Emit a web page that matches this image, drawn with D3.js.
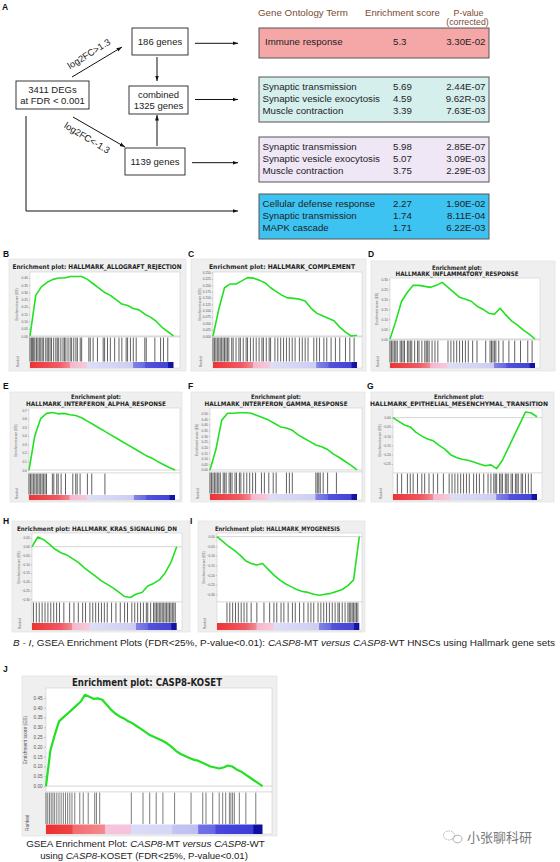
<!DOCTYPE html>
<html><head><meta charset="utf-8">
<script src="https://cdn.jsdelivr.net/npm/d3@7"></script>
<style>body{margin:0;background:#fff}svg{display:block}</style>
</head><body>
<svg id="c" width="560" height="862"></svg>
<script>
// ---------------- DATA ----------------
const flowNodes = [["3411 DEGs","at FDR < 0.001"],["186 genes"],["combined","1325 genes"],["1139 genes"]];
const flowEdgeLabels = ["log2FC>1.3","log2FC<-1.3"];
const goHeader = ["Gene Ontology Term","Enrichment score","P-value","(corrected)"];
const goTerms = [["Immune response"],
  ["Synaptic transmission","Synaptic vesicle exocytosis","Muscle contraction"],
  ["Synaptic transmission","Synaptic vesicle exocytosis","Muscle contraction"],
  ["Cellular defense response","Synaptic transmission","MAPK cascade"]];
const goScores = [["5.3"],["5.69","4.59","3.39"],["5.98","5.07","3.75"],["2.27","1.74","1.71"]];
const goPvals = [["3.30E-02"],["2.44E-07","9.62R-03","7.63E-03"],["2.85E-07","3.09E-03","2.29E-03"],["1.90E-02","8.11E-04","6.22E-03"]];

// running enrichment scores, read at evenly spaced rank positions
const esB = [0,.28,.34,.37,.39,.40,.40,.41,.41,.41,.39,.36,.33,.30,.28,.25,.22,.21,.19,.18,.15,.13,.10,.06,.03,0];
const esC = [0,.105,.19,.205,.205,.217,.23,.228,.22,.21,.19,.175,.16,.15,.148,.145,.138,.11,.09,.08,.07,.06,.035,.015,0,.003];
const esD = [0,.09,.19,.235,.27,.27,.265,.26,.27,.285,.26,.235,.21,.20,.19,.165,.15,.13,.125,.155,.12,.09,.07,.045,.025,0];
const esE = [0,.40,.60,.66,.67,.655,.66,.645,.635,.61,.57,.53,.49,.45,.41,.37,.33,.29,.25,.21,.17,.14,.10,.065,.03,0];
const esF = [0,.18,.44,.50,.50,.505,.505,.50,.48,.46,.44,.41,.38,.37,.35,.31,.28,.25,.22,.205,.18,.14,.11,.075,.04,0];
const esG = [0,-.02,-.04,-.05,-.08,-.10,-.115,-.125,-.15,-.17,-.20,-.215,-.225,-.23,-.24,-.25,-.26,-.255,-.275,-.23,-.165,-.10,-.035,.03,.025,.005];
const esH = [0,.055,.04,.015,-.015,-.035,-.047,-.068,-.09,-.12,-.145,-.17,-.195,-.215,-.235,-.26,-.285,-.29,-.27,-.262,-.225,-.21,-.19,-.15,-.09,0];
const esI = [0,-.025,-.05,-.07,-.095,-.125,-.14,-.148,-.14,-.17,-.20,-.225,-.245,-.26,-.275,-.285,-.29,-.30,-.305,-.30,-.295,-.285,-.275,-.255,-.225,0];
const esJ = [0,.18,.26,.33,.35,.37,.39,.41,.43,.465,.455,.445,.447,.44,.415,.39,.37,.355,.345,.33,.32,.305,.29,.275,.26,.25,.24,.23,.217,.20,.18,.165,.155,.145,.135,.13,.12,.11,.10,.095,.09,.095,.105,.10,.085,.075,.06,.045,.03,.015,0];

// gene-set hit positions (percent of ranked list)
const hitsB = [0,1,1.8,2.6,3.4,4.5,5.5,6.5,7.5,8.5,9.5,11,12,13,14,15,16.5,18,19,20,21.5,23,24,25,26.5,28,29,30.5,32,33,35,36,41,42,44,47,51,52,54,56,59,62,64,67,68,70,72,74,80,81,87,91,93,96];
const hitsC = [0,1,2,3,4,5,6,7,8,9,10,11,13,14,16,18,19,21,23,24,26,28,30,32,34,35,37,39,40,43,45,47,49,51,53,55,57,60,62,64,66,70,72,74,77,79,82,85,88,92,95,98];
const hitsD = [0,1,2,3,4,5,7,8,9,10,12,13,14,15,17,19,20,22,24,25,26,27,29,31,33,40,42,44,46,48,50,52,54,57,60,66,69,70,71,72,73,75,78,82,86,90,95,98];
const hitsE = [0,1,2,3,4,5,6,7,8,9,10,11,12,16,17,19,20,22,25,30,32,33,35,40,43,52];
const hitsF = [0,1,2,3,4,5,6,7,9,10,11,13,14,15,17,18,20,21,23,25,27,29,31,35,37,40,43,45,52,54,56,72,73,74,75,77,80,86];
const hitsG = [3,6,10,12,14,17,20,22,25,28,31,35,39,41,43,45,47,49,51,53,56,58,60,63,66,68,70,71,72,74,75,76,78,79,80,82,83,85,86,87,89,90,92,94,96];
const hitsH = [1,3,5,7,9,11,13,15,17,19,22,26,29,32,35,37,40,42,44,46,48,50,52,55,58,61,64,66,69,71,73,75,77,79,80,82,84,85,86,87,88,89,90,91,92,93,94,95,96,97,98,99];
const hitsI = [7,9,11,13,15,17,19,21,24,28,33,37,40,42,45,47,50,53,55,58,61,64,66,68,71,73,75,77,79,81,83,85,86,88,90,92,93,94,95,96,97,98,99];
const hitsJ = [0,0.8,1.6,2.4,3.2,4,5,6,7,8,9,10,11,12,13.3,15.6,17.2,19.5,22.5,23.3,24.8,39.4,44.8,47.9,50.9,54,59.4,67,72.4,73.9,77,80,81.6,83,84.7,85.4,86.2,87,89.3,92.3,96.9];

// y tick labels
const ticksB = [0,.05,.1,.15,.2,.25,.3,.35,.4];
const ticksC = [0,.025,.05,.075,.1,.125,.15,.175,.2,.225,.25];
const ticksD = [0,.05,.1,.15,.2,.25,.3];
const ticksE = [0,.1,.2,.3,.4,.5,.6,.7];
const ticksF = [0,.05,.1,.15,.2,.25,.3,.35,.4,.45,.5];
const ticksG = [-.25,-.2,-.15,-.1,-.05,0];
const ticksH = [-.3,-.25,-.2,-.15,-.1,-.05,0,.05];
const ticksI = [-.3,-.25,-.2,-.15,-.1,-.05,0];
const ticksJ = [0,.05,.1,.15,.2,.25,.3,.35,.4,.45];

// ---------------- DRAW ----------------
const svg = d3.select('#c');
const defs = svg.append('defs');
const SANS = 'Liberation Sans, Arial, Helvetica, sans-serif';
defs.append('marker').attr('id','ah').attr('viewBox','0 0 10 10').attr('refX',10).attr('refY',5)
  .attr('markerWidth',5.5).attr('markerHeight',5.5).attr('orient','auto')
  .append('path').attr('d','M0,1.5L10,5L0,8.5Z').attr('fill','#111');
function grad(id, stops){
  const lg = defs.append('linearGradient').attr('id',id);
  stops.forEach(s=>lg.append('stop').attr('offset',s[0]).attr('stop-color',s[1]));
}
grad('cb',[[0,'#ec3434'],[0.2,'#f05a64'],[0.275,'#f38890'],[0.28,'#f5b6ce'],[0.395,'#f6cadc'],[0.40,'#dedef7'],[0.715,'#cdcdf3'],[0.72,'#8282e6'],[0.80,'#6a6ae2'],[0.805,'#5252dc'],[0.96,'#4444d6'],[0.965,'#1818a6'],[1,'#10109c']]);
grad('cbJ',[[0,'#ec3030'],[0.12,'#ef4444'],[0.125,'#f26c70'],[0.27,'#f48a8e'],[0.275,'#f6c2dc'],[0.39,'#f6c2dc'],[0.395,'#dcdcf8'],[0.58,'#d6d6f6'],[0.585,'#c4c4f3'],[0.70,'#bebef2'],[0.705,'#7070e8'],[0.78,'#6a6ae6'],[0.785,'#4848de'],[0.955,'#3c3cd8'],[0.96,'#10109e'],[1,'#10109e']]);

function fit(sel, w){
  const l = sel.node().getComputedTextLength();
  if (l > 0) sel.attr('font-size', parseFloat(sel.attr('font-size')) * w / l);
}
function letter(t,x,y){
  svg.append('text').attr('x',x).attr('y',y).attr('font-family',SANS).attr('font-weight','bold')
    .attr('font-size',8.5).attr('fill','#111').text(t);
}

// ----- Panel A: flowchart -----
letter('A',2,9.5);
const nodeBox = [[16,81,73,28],[132,28,56,27],[129,86,59,28],[125,148,60,27]];
flowNodes.forEach((lines,i)=>{
  const b = nodeBox[i];
  svg.append('rect').attr('x',b[0]).attr('y',b[1]).attr('width',b[2]).attr('height',b[3])
    .attr('fill','#fff').attr('stroke','#222').attr('stroke-width',0.9);
  const cx = b[0]+b[2]/2, cy = b[1]+b[3]/2;
  lines.forEach((t,j)=>{
    const yy = cy + 3.3 + (j - (lines.length-1)/2)*11;
    svg.append('text').attr('x',cx).attr('y',yy).attr('text-anchor','middle')
      .attr('font-family',SANS).attr('font-size',9.5).attr('fill','#222').text(t);
  });
});
const arrows = [[72,77,122,47],[73,117,125,147],[157,57,157,81],[157,146,157,115],[195,43.3,238,43.3],[195,99.5,238,99.5],[192,162.7,238,162.7]];
arrows.forEach(a=>svg.append('line').attr('x1',a[0]).attr('y1',a[1]).attr('x2',a[2]).attr('y2',a[3])
  .attr('stroke','#111').attr('stroke-width',1).attr('marker-end','url(#ah)'));
svg.append('path').attr('d','M26,116V211H238').attr('fill','none').attr('stroke','#111').attr('stroke-width',1).attr('marker-end','url(#ah)');
[[89,54,-32],[87,138,31]].forEach((p,i)=>{
  svg.append('text').attr('transform',`translate(${p[0]},${p[1]}) rotate(${p[2]})`)
    .attr('text-anchor','middle').attr('dominant-baseline','central')
    .attr('font-family',SANS).attr('font-size',9.3).attr('fill','#222').text(flowEdgeLabels[i]);
});

// ----- Panel A: GO table -----
const HC = '#7b4a33';
fit(svg.append('text').attr('x',258).attr('y',16).attr('font-family',SANS).attr('font-size',9.6).attr('fill',HC).text(goHeader[0]), 90);
fit(svg.append('text').attr('x',365).attr('y',16).attr('font-family',SANS).attr('font-size',9.6).attr('fill',HC).text(goHeader[1]), 75);
svg.append('text').attr('x',468.5).attr('y',15.5).attr('text-anchor','middle').attr('font-family',SANS).attr('font-size',8.8).attr('fill',HC).text(goHeader[2]);
svg.append('text').attr('x',467.5).attr('y',24.5).attr('text-anchor','middle').attr('font-family',SANS).attr('font-size',8.8).attr('fill',HC).text(goHeader[3]);
const goBox = [[259,28,230,30,'#f5a7a7'],[259,77,230,45,'#d5efed'],[259,137,230,45,'#efe6f6'],[259,194,230,45,'#3dc3f1']];
goTerms.forEach((terms,bi)=>{
  const b = goBox[bi];
  svg.append('rect').attr('x',b[0]).attr('y',b[1]).attr('width',b[2]).attr('height',b[3])
    .attr('fill',b[4]).attr('stroke','#555').attr('stroke-width',1);
  const base = terms.length===1 ? b[1]+17 : b[1]+12.8;
  terms.forEach((t,ri)=>{
    const yy = base + ri*12.1;
    svg.append('text').attr('x', bi===0?265:262.5).attr('y',yy).attr('font-family',SANS).attr('font-size',9.7).attr('fill','#1e1e1e').text(t);
    svg.append('text').attr('x',393).attr('y',yy).attr('font-family',SANS).attr('font-size',9.7).attr('fill','#1e1e1e').text(goScores[bi][ri]);
    svg.append('text').attr('x',485.5).attr('y',yy).attr('text-anchor','end').attr('font-family',SANS).attr('font-size',9.7).attr('fill','#1e1e1e').text(goPvals[bi][ri]);
  });
});

// ----- GSEA panels -----
function gsea(p){
  const g = svg.append('g');
  letter(p.L, p.lx, p.ly);
  g.append('rect').attr('x',p.fr[0]).attr('y',p.fr[1]).attr('width',p.fr[2]).attr('height',p.fr[3])
    .attr('fill','#efefef').attr('stroke','#dcdcdc').attr('stroke-width',0.6);
  p.title.forEach((t,i)=>{
    g.append('text').attr('x',p.cx).attr('y',p.ty+i*p.tdy).attr('text-anchor','middle')
      .attr('font-family','DejaVu Sans, Verdana, sans-serif').attr('font-weight','bold')
      .attr('font-size',p.tfs).attr('fill','#1f1f1f')
      .attr('textLength',p.tw[i]).attr('lengthAdjust','spacingAndGlyphs').text(t);
  });
  const x = d3.scaleLinear().domain([0,1]).range([p.x0,p.xd]);
  const y = d3.scaleLinear().domain(p.dom).range([p.y1,p.y0]);
  g.append('rect').attr('x',p.x0).attr('y',p.y0).attr('width',p.x1-p.x0).attr('height',p.y1-p.y0)
    .attr('fill','#fff').attr('stroke','#c8c8c8').attr('stroke-width',0.5);
  g.append('line').attr('x1',p.x0).attr('x2',p.x1).attr('y1',y(0)).attr('y2',y(0))
    .attr('stroke','#bbb').attr('stroke-width',0.6);
  const ax = g.append('g').attr('transform',`translate(${p.x0},0)`)
    .call(d3.axisLeft(y).tickValues(p.ticks).tickFormat(d3.format(p.fmt)).tickSize(p.big?2:1.2).tickPadding(p.big?1.5:1));
  ax.select('.domain').remove();
  ax.selectAll('line').attr('stroke','#888').attr('stroke-width',0.4);
  ax.selectAll('text').attr('font-size',p.big?4.6:3.2).attr('fill','#555').attr('font-family',SANS);
  g.append('text').attr('transform',`translate(${p.x0-(p.big?19:12)},${(p.y0+p.y1)/2}) rotate(-90)`)
    .attr('text-anchor','middle').attr('font-family',SANS).attr('font-size',p.big?4.8:3.2).attr('fill','#555')
    .text('Enrichment score (ES)');
  g.append('rect').attr('x',p.x0).attr('y',p.y1).attr('width',p.x1-p.x0).attr('height',p.cb-p.y1)
    .attr('fill','#fff').attr('stroke','#c8c8c8').attr('stroke-width',0.5);
  g.selectAll(null).data(p.hits).join('line')
    .attr('x1',d=>x(d/100)).attr('x2',d=>x(d/100)).attr('y1',p.y1+0.6).attr('y2',p.hb-0.4)
    .attr('stroke','#000').attr('stroke-opacity',p.big?0.55:0.78).attr('stroke-width',p.big?0.95:0.8);
  g.append('rect').attr('x',p.x0).attr('y',p.hb).attr('width',p.xd-p.x0).attr('height',p.cb-p.hb)
    .attr('fill',`url(#${p.big?'cbJ':'cb'})`);
  g.append('text').attr('transform',`translate(${p.x0-(p.big?17:11)},${p.cb-(p.big?3:1)}) rotate(-90)`)
    .attr('font-family',SANS).attr('font-size',p.big?4.8:3.2).attr('fill','#555').text('Ranked');
  const pts = p.es.map((v,i)=>[i/(p.es.length-1), v]);
  g.append('path').datum(pts).attr('d',d3.line().x(d=>x(d[0])).y(d=>y(d[1])))
    .attr('fill','none').attr('stroke','#22e022').attr('stroke-width',p.big?2.2:1.6).attr('stroke-linejoin','round');
}

const panels = [
 {L:'B',lx:3,ly:257,fr:[9,259,177,112],title:['Enrichment plot: HALLMARK_ALLOGRAFT_REJECTION'],tw:[169],cx:97,ty:268.5,tdy:6.8,tfs:6.4,
  x0:30,y0:272,x1:180,y1:337,xd:173.5,hb:362,cb:368,es:esB,hits:hitsB,dom:[-0.007,0.441],ticks:ticksB,fmt:'.2f'},
 {L:'C',lx:188,ly:257,fr:[191,259,175,112],title:['Enrichment plot: HALLMARK_COMPLEMENT'],tw:[146],cx:282,ty:268.5,tdy:6.8,tfs:6.4,
  x0:213,y0:272,x1:362,y1:337,xd:357,hb:362,cb:368,es:esC,hits:hitsC,dom:[-0.004,0.252],ticks:ticksC,fmt:'.3f'},
 {L:'D',lx:368,ly:257,fr:[371,261,184,110],title:['Enrichment plot:','HALLMARK_INFLAMMATORY_RESPONSE'],tw:[50,123],cx:457,ty:269.5,tdy:6.6,tfs:6.2,
  x0:390,y0:278,x1:540,y1:340,xd:535,hb:363,cb:368,es:esD,hits:hitsD,dom:[-0.005,0.307],ticks:ticksD,fmt:'.2f'},
 {L:'E',lx:3,ly:388.5,fr:[10,392,172,110],title:['Enrichment plot:','HALLMARK_INTERFERON_ALPHA_RESPONSE'],tw:[50,140],cx:96,ty:399,tdy:7,tfs:6.2,
  x0:29,y0:408,x1:180,y1:473,xd:175,hb:495,cb:500,es:esE,hits:hitsE,dom:[-0.035,0.723],ticks:ticksE,fmt:'.1f'},
 {L:'F',lx:188,ly:388.5,fr:[191,392,174,110],title:['Enrichment plot:','HALLMARK_INTERFERON_GAMMA_RESPONSE'],tw:[50,143],cx:276,ty:399,tdy:7,tfs:6.2,
  x0:210,y0:408,x1:362,y1:472,xd:357,hb:494,cb:500,es:esF,hits:hitsF,dom:[-0.018,0.547],ticks:ticksF,fmt:'.2f'},
 {L:'G',lx:367,ly:388.5,fr:[371,392,183,110],title:['Enrichment plot:','HALLMARK_EPITHELIAL_MESENCHYMAL_TRANSITION'],tw:[50,178],cx:459,ty:399,tdy:7,tfs:6.2,
  x0:393,y0:408,x1:542,y1:473,xd:537,hb:494,cb:500,es:esG,hits:hitsG,dom:[-0.299,0.052],ticks:ticksG,fmt:'.2f'},
 {L:'H',lx:3,ly:523.5,fr:[12,521,178,111],title:['Enrichment plot: HALLMARK_KRAS_SIGNALING_DN'],tw:[160],cx:97,ty:530.5,tdy:7,tfs:6.2,
  x0:32,y0:533,x1:182,y1:602,xd:176.7,hb:623,cb:630,es:esH,hits:hitsH,dom:[-0.316,0.078],ticks:ticksH,fmt:'.2f'},
 {L:'I',lx:190,ly:523.5,fr:[198,521,167,111],title:['Enrichment plot: HALLMARK_MYOGENESIS'],tw:[125],cx:277.5,ty:530.5,tdy:7,tfs:6.2,
  x0:217,y0:533,x1:362,y1:602,xd:359.3,hb:623,cb:630,es:esI,hits:hitsI,dom:[-0.34,0.019],ticks:ticksI,fmt:'.2f'},
 {L:'J',lx:3,ly:672,fr:[22,676,255,160],title:['Enrichment plot: CASP8-KOSET'],tw:[150],cx:147,ty:685.5,tdy:0,tfs:10,big:true,
  x0:46,y0:688,x1:272,y1:792,xd:262.5,hb:824.5,cb:834,es:esJ,hits:hitsJ,dom:[-0.03,0.5],ticks:ticksJ,fmt:'.2f'}
];
panels.forEach(gsea);

// ----- captions -----
function caption(parts, x, y, w, anchor){
  const t = svg.append('text').attr('x',x).attr('y',y).attr('text-anchor',anchor||'start')
    .attr('font-family',SANS).attr('font-size',10).attr('fill','#222');
  parts.forEach(p=>t.append('tspan').attr('font-style',p[1]?'italic':'normal').text(p[0]));
  fit(t, w);
  return t;
}
caption([['B - I',1],[', GSEA Enrichment Plots (FDR<25%, P-value<0.01): ',0],['CASP8',1],['-MT ',0],['versus',1],[' ',0],['CASP8',1],['-WT HNSCs using Hallmark gene sets',0]], 13, 645.5, 543);
caption([['GSEA Enrichment Plot: ',0],['CASP8',1],['-MT ',0],['versus',1],[' ',0],['CASP8',1],['-WT',0]], 145.5, 846.5, 239, 'middle');
caption([['using ',0],['CASP8',1],['-KOSET (FDR<25%, P-value<0.01)',0]], 144, 859, 208, 'middle');

// ----- watermark -----
const wm = svg.append('g').attr('fill','none').attr('stroke','#9a9a9a').attr('stroke-width',0.8);
wm.append('ellipse').attr('cx',449).attr('cy',835.5).attr('rx',5.5).attr('ry',4.5).attr('stroke-dasharray','1.5,1');
wm.append('ellipse').attr('cx',457.5).attr('cy',839).attr('rx',4.5).attr('ry',3.8);
svg.append('text').attr('x',467).attr('y',842).attr('font-family','Noto Sans CJK SC, sans-serif')
  .attr('font-size',13).attr('fill','#7a7a7a').text('小张聊科研');
</script>
</body></html>
